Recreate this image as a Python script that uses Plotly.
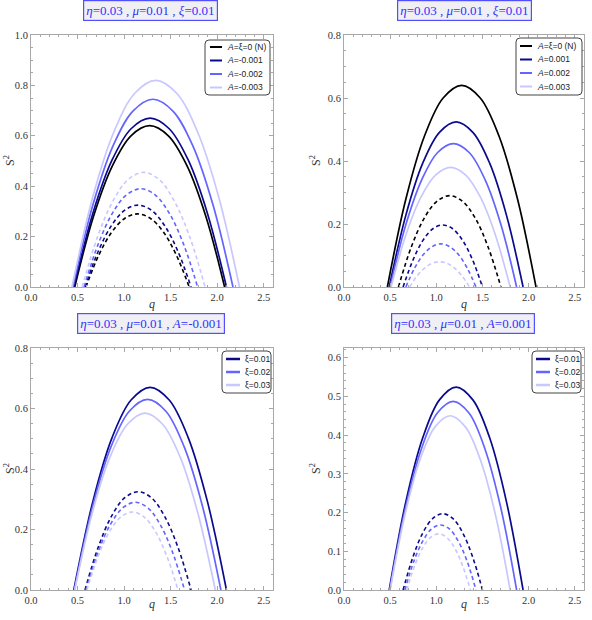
import plotly.graph_objects as go

# ---------------- data ----------------
# Panel 1: eta=0.03, mu=0.01, xi=0.01 ; A = 0 (N), -0.001, -0.002, -0.003
P1_LABELS = ["<i>A</i>=ξ=0 (N)", "<i>A</i>=-0.001", "<i>A</i>=-0.002", "<i>A</i>=-0.003"]
P1_SOLID_Q = [
    [0.47, 0.671, 0.873, 1.074, 1.275, 1.476, 1.678, 1.879, 2.08],
    [0.46, 0.665, 0.87, 1.075, 1.28, 1.485, 1.69, 1.895, 2.10],
    [0.45, 0.665, 0.88, 1.095, 1.31, 1.525, 1.74, 1.955, 2.17],
    [0.44, 0.665, 0.89, 1.115, 1.34, 1.565, 1.79, 2.015, 2.24],
]
P1_SOLID_S2 = [
    [0, 0.28, 0.48, 0.60, 0.64, 0.60, 0.48, 0.28, 0],
    [0, 0.293, 0.503, 0.628, 0.67, 0.628, 0.503, 0.293, 0],
    [0, 0.326, 0.559, 0.698, 0.745, 0.698, 0.559, 0.326, 0],
    [0, 0.359, 0.615, 0.769, 0.82, 0.769, 0.615, 0.359, 0],
]
P1_DASH_Q = [
    [0.59, 0.729, 0.868, 1.006, 1.145, 1.284, 1.423, 1.561, 1.70],
    [0.58, 0.723, 0.865, 1.008, 1.15, 1.293, 1.435, 1.578, 1.72],
    [0.57, 0.723, 0.875, 1.028, 1.18, 1.333, 1.485, 1.638, 1.79],
    [0.55, 0.715, 0.88, 1.045, 1.21, 1.375, 1.54, 1.705, 1.87],
]
P1_DASH_S2 = [
    [0, 0.127, 0.218, 0.272, 0.29, 0.272, 0.218, 0.127, 0],
    [0, 0.142, 0.244, 0.305, 0.325, 0.305, 0.244, 0.142, 0],
    [0, 0.171, 0.293, 0.366, 0.39, 0.366, 0.293, 0.171, 0],
    [0, 0.199, 0.341, 0.427, 0.455, 0.427, 0.341, 0.199, 0],
]

# Panel 2: eta=0.03, mu=0.01, xi=0.01 ; A = 0 (N), 0.001, 0.002, 0.003
P2_LABELS = ["<i>A</i>=ξ=0 (N)", "<i>A</i>=0.001", "<i>A</i>=0.002", "<i>A</i>=0.003"]
P2_SOLID_Q = [
    [0.47, 0.671, 0.873, 1.074, 1.275, 1.476, 1.678, 1.879, 2.08],
    [0.49, 0.671, 0.853, 1.034, 1.215, 1.396, 1.578, 1.759, 1.94],
    [0.50, 0.671, 0.843, 1.014, 1.185, 1.356, 1.528, 1.699, 1.87],
    [0.51, 0.671, 0.833, 0.994, 1.155, 1.316, 1.478, 1.639, 1.80],
]
P2_SOLID_S2 = [
    [0, 0.28, 0.48, 0.60, 0.64, 0.60, 0.48, 0.28, 0],
    [0, 0.229, 0.393, 0.491, 0.524, 0.491, 0.393, 0.229, 0],
    [0, 0.199, 0.341, 0.427, 0.455, 0.427, 0.341, 0.199, 0],
    [0, 0.166, 0.285, 0.356, 0.38, 0.356, 0.285, 0.166, 0],
]
P2_DASH_Q = [
    [0.59, 0.729, 0.868, 1.006, 1.145, 1.284, 1.423, 1.561, 1.70],
    [0.64, 0.748, 0.855, 0.963, 1.07, 1.178, 1.285, 1.393, 1.50],
    [0.67, 0.765, 0.86, 0.955, 1.05, 1.145, 1.24, 1.335, 1.43],
    [0.71, 0.791, 0.873, 0.954, 1.035, 1.116, 1.198, 1.279, 1.36],
]
P2_DASH_S2 = [
    [0, 0.127, 0.218, 0.272, 0.29, 0.272, 0.218, 0.127, 0],
    [0, 0.086, 0.148, 0.185, 0.197, 0.185, 0.148, 0.086, 0],
    [0, 0.060, 0.103, 0.128, 0.137, 0.128, 0.103, 0.060, 0],
    [0, 0.035, 0.06, 0.075, 0.08, 0.075, 0.06, 0.035, 0],
]

# Panel 3: eta=0.03, mu=0.01, A=-0.001 ; xi = 0.01, 0.02, 0.03
P3_LABELS = ["ξ=0.01", "ξ=0.02", "ξ=0.03"]
P3_SOLID_Q = [
    [0.46, 0.665, 0.87, 1.075, 1.28, 1.485, 1.69, 1.895, 2.10],
    [0.465, 0.662, 0.859, 1.056, 1.253, 1.449, 1.646, 1.843, 2.04],
    [0.47, 0.659, 0.848, 1.036, 1.225, 1.414, 1.603, 1.791, 1.98],
]
P3_SOLID_S2 = [
    [0, 0.293, 0.503, 0.628, 0.67, 0.628, 0.503, 0.293, 0],
    [0, 0.276, 0.473, 0.591, 0.63, 0.591, 0.473, 0.276, 0],
    [0, 0.256, 0.439, 0.548, 0.585, 0.548, 0.439, 0.256, 0],
]
P3_DASH_Q = [
    [0.58, 0.723, 0.865, 1.008, 1.15, 1.293, 1.435, 1.578, 1.72],
    [0.59, 0.723, 0.855, 0.988, 1.12, 1.253, 1.385, 1.518, 1.65],
    [0.60, 0.723, 0.845, 0.968, 1.09, 1.213, 1.335, 1.458, 1.58],
]
P3_DASH_S2 = [
    [0, 0.142, 0.244, 0.305, 0.325, 0.305, 0.244, 0.142, 0],
    [0, 0.127, 0.218, 0.272, 0.29, 0.272, 0.218, 0.127, 0],
    [0, 0.113, 0.194, 0.242, 0.258, 0.242, 0.194, 0.113, 0],
]

# Panel 4: eta=0.03, mu=0.01, A=0.001 ; xi = 0.01, 0.02, 0.03
P4_LABELS = ["ξ=0.01", "ξ=0.02", "ξ=0.03"]
P4_SOLID_Q = [
    [0.49, 0.671, 0.853, 1.034, 1.215, 1.396, 1.578, 1.759, 1.94],
    [0.495, 0.667, 0.839, 1.011, 1.183, 1.354, 1.526, 1.698, 1.87],
    [0.50, 0.663, 0.825, 0.988, 1.15, 1.313, 1.475, 1.638, 1.80],
]
P4_SOLID_S2 = [
    [0, 0.229, 0.393, 0.491, 0.524, 0.491, 0.393, 0.229, 0],
    [0, 0.213, 0.365, 0.457, 0.487, 0.457, 0.365, 0.213, 0],
    [0, 0.197, 0.338, 0.422, 0.45, 0.422, 0.338, 0.197, 0],
]
P4_DASH_Q = [
    [0.64, 0.748, 0.855, 0.963, 1.07, 1.178, 1.285, 1.393, 1.50],
    [0.66, 0.756, 0.853, 0.949, 1.045, 1.141, 1.238, 1.334, 1.43],
    [0.68, 0.766, 0.853, 0.939, 1.025, 1.111, 1.198, 1.284, 1.37],
]
P4_DASH_S2 = [
    [0, 0.086, 0.148, 0.185, 0.197, 0.185, 0.148, 0.086, 0],
    [0, 0.074, 0.126, 0.158, 0.168, 0.158, 0.126, 0.074, 0],
    [0, 0.063, 0.109, 0.136, 0.145, 0.136, 0.109, 0.063, 0],
]

TITLES = [
    "<i>η</i>=0.03 , <i>μ</i>=0.01 , <i>ξ</i>=0.01",
    "<i>η</i>=0.03 , <i>μ</i>=0.01 , <i>ξ</i>=0.01",
    "<i>η</i>=0.03 , <i>μ</i>=0.01 , <i>A</i>=-0.001",
    "<i>η</i>=0.03 , <i>μ</i>=0.01 , <i>A</i>=0.001",
]

C_BLACK = "#000000"
C_NAVY = "#0a0a8c"
C_MED = "#6464ff"
C_LIGHT = "#c8c8ff"

# ---------------- figure ----------------
W, H = 592, 620
fig = go.Figure()

panels = [
    ("x", "y", P1_LABELS, P1_SOLID_Q, P1_SOLID_S2, P1_DASH_Q, P1_DASH_S2,
     [C_BLACK, C_NAVY, C_MED, C_LIGHT]),
    ("x2", "y2", P2_LABELS, P2_SOLID_Q, P2_SOLID_S2, P2_DASH_Q, P2_DASH_S2,
     [C_BLACK, C_NAVY, C_MED, C_LIGHT]),
    ("x3", "y3", P3_LABELS, P3_SOLID_Q, P3_SOLID_S2, P3_DASH_Q, P3_DASH_S2,
     [C_NAVY, C_MED, C_LIGHT]),
    ("x4", "y4", P4_LABELS, P4_SOLID_Q, P4_SOLID_S2, P4_DASH_Q, P4_DASH_S2,
     [C_NAVY, C_MED, C_LIGHT]),
]

for xa, ya, labels, sq, ss, dq, ds, cols in panels:
    for q, s, lab, c in zip(sq, ss, labels, cols):
        fig.add_trace(go.Scatter(x=q, y=s, mode="lines", name=lab, showlegend=False,
                                 line=dict(color=c, width=1.7, shape="spline"),
                                 xaxis=xa, yaxis=ya))
    for q, s, lab, c in zip(dq, ds, labels, cols):
        fig.add_trace(go.Scatter(x=q, y=s, mode="lines", name=lab, showlegend=False,
                                 line=dict(color=c, width=1.6, shape="spline", dash="4px,3px"),
                                 xaxis=xa, yaxis=ya))

def px_x(p):
    return p / W

def px_y(p):
    return 1 - p / H

SERIF = "Liberation Serif, Times New Roman, serif"
TICKFONT = dict(family=SERIF, size=10.5, color="#333333")
FRAME = "#a8a8a8"

def xaxis(dom, anchor):
    return dict(domain=dom, anchor=anchor, range=[0, 2.6], tick0=0, dtick=0.5,
                tickformat=".1f", ticks="inside", ticklen=4, tickcolor=FRAME,
                showline=True, linecolor=FRAME, linewidth=1, mirror="allticks",
                minor=dict(dtick=0.1, ticks="inside", ticklen=2, tickcolor=FRAME),
                showgrid=False, zeroline=False, tickfont=TICKFONT, automargin=False)

def yaxis(dom, anchor, top, dtick, mdt):
    return dict(domain=dom, anchor=anchor, range=[0, top], tick0=0, dtick=dtick,
                tickformat=".1f", ticks="inside", ticklen=4, tickcolor=FRAME,
                showline=True, linecolor=FRAME, linewidth=1, mirror="allticks",
                minor=dict(dtick=mdt, ticks="inside", ticklen=2, tickcolor=FRAME),
                showgrid=False, zeroline=False, tickfont=TICKFONT, automargin=False)

XD1 = [px_x(31), px_x(273)]
XD2 = [px_x(344), px_x(584)]
YD1 = [px_y(287), px_y(35)]
YD2 = [px_y(590), px_y(348)]

annos = []
shapes = []

# panel titles (boxed)
for txt, cx, cy in zip(TITLES, [150, 464, 151, 463], [11, 11, 323, 323]):
    annos.append(dict(text=txt, x=px_x(cx), y=px_y(cy), xref="paper", yref="paper",
                      xanchor="center", yanchor="middle", showarrow=False,
                      font=dict(family=SERIF, size=13, color="#3030ff"),
                      bgcolor="#f0f0f4", bordercolor="#5050ff", borderwidth=1.2, borderpad=2))

# axis titles
for cx, cy in [(152, 304), (464, 304), (152, 604), (464, 604)]:
    annos.append(dict(text="<i>q</i>", x=px_x(cx), y=px_y(cy), xref="paper", yref="paper",
                      xanchor="center", yanchor="middle", showarrow=False,
                      font=dict(family=SERIF, size=12, color="#333")))
for cx, cy in [(9, 161), (315, 161), (9, 469), (315, 469)]:
    annos.append(dict(text="S<sup>2</sup>", x=px_x(cx), y=px_y(cy), xref="paper", yref="paper",
                      xanchor="center", yanchor="middle", showarrow=False, textangle=-90,
                      font=dict(family=SERIF, size=12, color="#333")))

# legends (drawn as framed boxes with line samples and text)
LEGFONT = dict(family="Liberation Sans", size=8.5, color="#222")

def rounded_box(x0, y0, x1, y1, r=4):
    X = lambda p: px_x(p)
    Y = lambda p: px_y(p)
    path = (f"M {X(x0 + r)},{Y(y0)} L {X(x1 - r)},{Y(y0)} Q {X(x1)},{Y(y0)} {X(x1)},{Y(y0 + r)} "
            f"L {X(x1)},{Y(y1 - r)} Q {X(x1)},{Y(y1)} {X(x1 - r)},{Y(y1)} "
            f"L {X(x0 + r)},{Y(y1)} Q {X(x0)},{Y(y1)} {X(x0)},{Y(y1 - r)} "
            f"L {X(x0)},{Y(y0 + r)} Q {X(x0)},{Y(y0)} {X(x0 + r)},{Y(y0)} Z")
    return dict(type="path", path=path, xref="paper", yref="paper",
                line=dict(color="#444", width=1), fillcolor="white", layer="above")

def legend(box, rows, lx0, lx1, tx, labels, colors, lw):
    shapes.append(rounded_box(*box))
    for ry, lab, c in zip(rows, labels, colors):
        shapes.append(dict(type="line", xref="paper", yref="paper", layer="above",
                           x0=px_x(lx0), x1=px_x(lx1), y0=px_y(ry), y1=px_y(ry),
                           line=dict(color=c, width=lw)))
        annos.append(dict(text=lab, x=px_x(tx), y=px_y(ry), xref="paper", yref="paper",
                          xanchor="left", yanchor="middle", showarrow=False, font=LEGFONT))

legend((205, 40, 270, 95), [47, 60.5, 74, 87.5], 210, 222, 225, P1_LABELS,
       [C_BLACK, C_NAVY, C_MED, C_LIGHT], 2)
legend((516, 38, 582, 95), [46, 59.5, 73, 86.5], 520, 532, 535, P2_LABELS,
       [C_BLACK, C_NAVY, C_MED, C_LIGHT], 2)
legend((222, 351, 271, 393), [359, 372, 385], 226, 240, 243, P3_LABELS,
       [C_NAVY, C_MED, C_LIGHT], 2.5)
legend((532, 351, 581, 393), [359, 372, 385], 536, 550, 553, P4_LABELS,
       [C_NAVY, C_MED, C_LIGHT], 2.5)

fig.update_layout(
    width=W, height=H, margin=dict(l=0, r=0, t=0, b=0),
    paper_bgcolor="white", plot_bgcolor="white", showlegend=False,
    xaxis=xaxis(XD1, "y"), yaxis=yaxis(YD1, "x", 1.0, 0.2, 0.05),
    xaxis2=xaxis(XD2, "y2"), yaxis2=yaxis(YD1, "x2", 0.8, 0.2, 0.05),
    xaxis3=xaxis(XD1, "y3"), yaxis3=yaxis(YD2, "x3", 0.8, 0.2, 0.05),
    xaxis4=xaxis(XD2, "y4"), yaxis4=yaxis(YD2, "x4", 0.625, 0.1, 0.02),
    annotations=annos, shapes=shapes,
)

fig.write_html("out.html", config={"displayModeBar": False},
               post_script="document.body.style.margin='0';")
